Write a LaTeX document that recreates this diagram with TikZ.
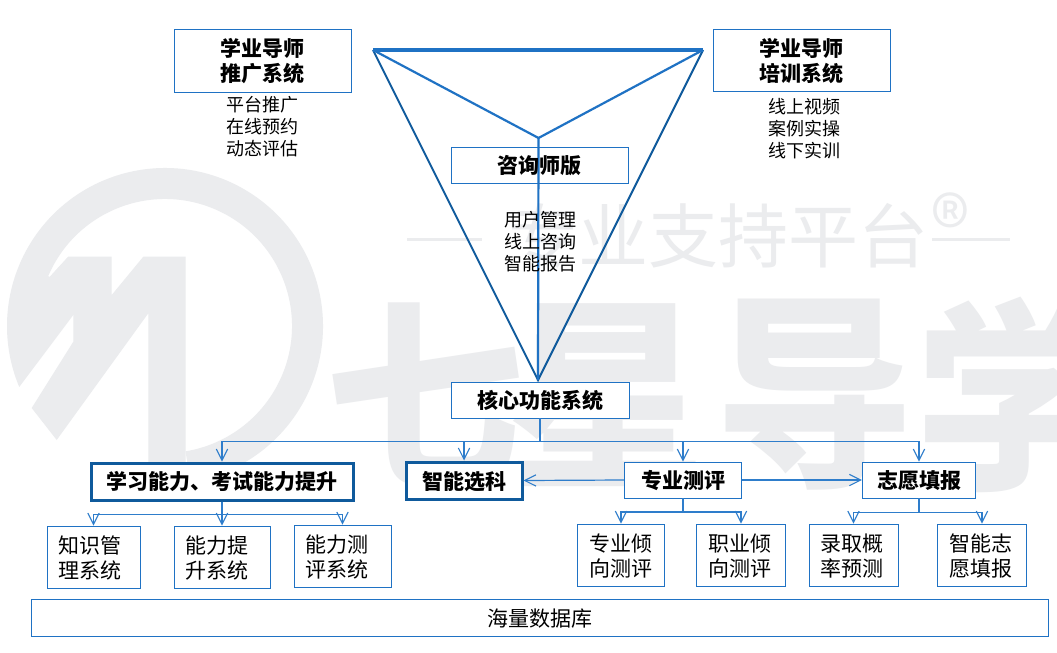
\documentclass[tikz,border=0pt]{standalone}
\usepackage{fontspec}
\setmainfont{Noto Sans CJK SC}
\newfontfamily\wmblack{Noto Sans CJK SC Black}
\usetikzlibrary{arrows.meta,calc}
\definecolor{wm}{HTML}{EBECEE}
\definecolor{darkb}{HTML}{0F5A9C}
\definecolor{boxb}{HTML}{1F72C4}
\definecolor{conn}{HTML}{2E7DCB}
\newcommand{\fsz}[1]{\fontsize{#1}{18.75}\selectfont}
\newcommand{\dn}[1]{\raisebox{-0.75pt}[\height][\depth]{#1}}
\tikzset{
  px/.style={line width=#1*0.75pt},
  box/.style={draw=boxb,px=0.9,fill=white,inner sep=0pt,align=center,font=\fsz{15.75}},
  boldbox/.style={box,font=\fsz{15.75}\bfseries},
  thickbox/.style={boldbox,draw=darkb,px=3},
  leaf/.style={box,align=left,inner xsep=8.6pt,inner ysep=0pt,text width=#1},
  plain/.style={inner sep=0pt,align=center,font=\fontsize{13.5}{16.5}\selectfont},
  tri/.style={draw=darkb,px=2},
  tritop/.style={draw=boxb,px=3.2},
  triin/.style={draw=boxb,px=2.2},
  link/.style={draw=conn,px=1.2,-{Straight Barb[length=8.5pt,width=8.5pt,line width=0.8pt]}},
  wmtext/.style={text=wm,inner sep=0pt,anchor=center},
  wmbig/.style={wmtext,xscale=0.95,yscale=0.98,font=\fontsize{157}{157}\selectfont\wmblack},
}
\begin{document}
\begin{tikzpicture}[x=0.75pt,y=-0.75pt]
\useasboundingbox (0,0) rectangle (1057,653);
\fill[white] (0,0) rectangle (1057,653);
% watermark
\begin{scope}
\clip (0,0) rectangle (1057,653);
\coordinate (lc) at (165,326);
\fill[wm] ($(lc)+(80.7:158)$) arc[start angle=80.7,end angle=-202.7,radius=158]
  -- (73.3,315) -- (68.3,256.7) -- (50,276.7)
  -- ($(lc)+(-157:127)$) arc[start angle=-157,end angle=80.7,radius=127] -- cycle;
\fill[wm] (68.3,256.7) -- (111.7,256.7) -- (111.7,295) -- (143.3,256.7) -- (185.7,256.7)
  -- (185.7,470) -- (148.3,470) -- (148.3,313.3) -- (56.7,440) -- (31.7,408)
  -- (73.3,341.7) -- (73.3,315) -- (50,300) -- (50,276.7) -- cycle;
\node[wmbig] (wb1) at (425,395) {七};
\node[wmbig] (wb2) at (607,395) {星};
\node[wmbig] (wb3) at (815,395) {导};
\node[wmbig] (wb4) at (1015,395) {学};
\node[wmtext,font=\fontsize{52.5}{52.5}\selectfont] (wsub) at (718,236) {专业支持平台};
\node[wmtext,font=\fontsize{60}{60}\selectfont] (wreg) at (950,225) {®};
\coordinate (wl1) at (407,239); \coordinate (wl2) at (482,239);
\coordinate (wr1) at (932,239); \coordinate (wr2) at (1010,239);
\draw[wm,px=3] (wl1) -- (wl2);
\draw[wm,px=3] (wr1) -- (wr2);
\end{scope}
% funnel
\coordinate (tl) at (373,50);
\coordinate (tr) at (703,50);
\coordinate (tm) at (538.5,138);
\coordinate (tb) at (538,380);
\draw[tri] (tl) -- (tb) -- (tr);
\draw[triin] (tl) -- (tm) -- (tr);
\draw[triin] (tm) -- (tb);
\draw[tritop] (tl) -- (tr);
% top boxes
\node[boldbox,minimum width=132.75pt,minimum height=47.25pt] (tuiguang) at (262.5,60.5) {\dn{学业导师}\\\dn{推广系统}};
\node[boldbox,minimum width=132.75pt,minimum height=46.5pt] (peixun) at (801.5,60) {\dn{学业导师}\\\dn{培训系统}};
\node[plain] (tgl) at (262,127) {平台推广\\在线预约\\动态评估};
\node[plain] (pxl) at (804,129) {线上视频\\案例实操\\线下实训};
\node[boldbox,fill=none,minimum width=132.75pt,minimum height=27pt] (zixun) at (539.5,165) {\dn{咨询师版}};
\node[plain] (zxl) at (540,242) {用户管理\\线上咨询\\智能报告};
% core
\node[boldbox,minimum width=133.5pt,minimum height=27pt] (core) at (540,400) {核心功能系统};
\node[thickbox,minimum width=196.5pt,minimum height=27.75pt] (xuexi) at (222,481.5) {学习能力、考试能力提升};
\node[thickbox,minimum width=87pt,minimum height=27.75pt] (xuanke) at (464,480.5) {\dn{智能选科}};
\node[boldbox,minimum width=88pt,minimum height=27pt] (ceping) at (683,480) {\dn{专业测评}};
\node[boldbox,minimum width=85pt,minimum height=27pt] (zhiyuan) at (919,480) {\dn{志愿填报}};
% leaves
\node[leaf=52.5pt,minimum height=46.5pt] (l1) at (93.5,557) {\dn{知识管}\\\dn{理系统}};
\node[leaf=54.75pt,minimum height=46.5pt] (l2) at (222,557) {\dn{能力提}\\\dn{升系统}};
\node[leaf=55.5pt,minimum height=46.5pt] (l3) at (342.5,556) {\dn{能力测}\\\dn{评系统}};
\node[leaf=47.6pt,minimum height=46.5pt] (l4) at (621,555) {\dn{专业倾}\\\dn{向测评}};
\node[leaf=49.5pt,minimum height=46.5pt] (l5) at (741,555) {\dn{职业倾}\\\dn{向测评}};
\node[leaf=49.5pt,minimum height=46.5pt] (l6) at (853.5,555) {\dn{录取概}\\\dn{率预测}};
\node[leaf=49.1pt,minimum height=46.5pt] (l7) at (982,555) {\dn{智能志}\\\dn{愿填报}};
\node[box,minimum width=762.75pt,minimum height=27.75pt] (db) at (539.5,617.5) {\dn{海量数据库}};
% connectors
\foreach \c in {xuexi,xuanke,ceping,zhiyuan}
  \draw[link] (core.south) -- ++(0,23) -| (\c.north);
\foreach \c in {l1,l2,l3}
  \draw[link] (xuexi.south) -- ++(0,13) -| (\c.north);
\foreach \c in {l4,l5}
  \draw[link] (ceping.south) -- ++(0,13.5) -| (\c.north);
\foreach \c in {l6,l7}
  \draw[link] (zhiyuan.south) -- ++(0,14) -| (\c.north);
\draw[link] (ceping.west) -- (xuanke.east);
\draw[link] (ceping.east) -- (zhiyuan.west);
\end{tikzpicture}
\end{document}
